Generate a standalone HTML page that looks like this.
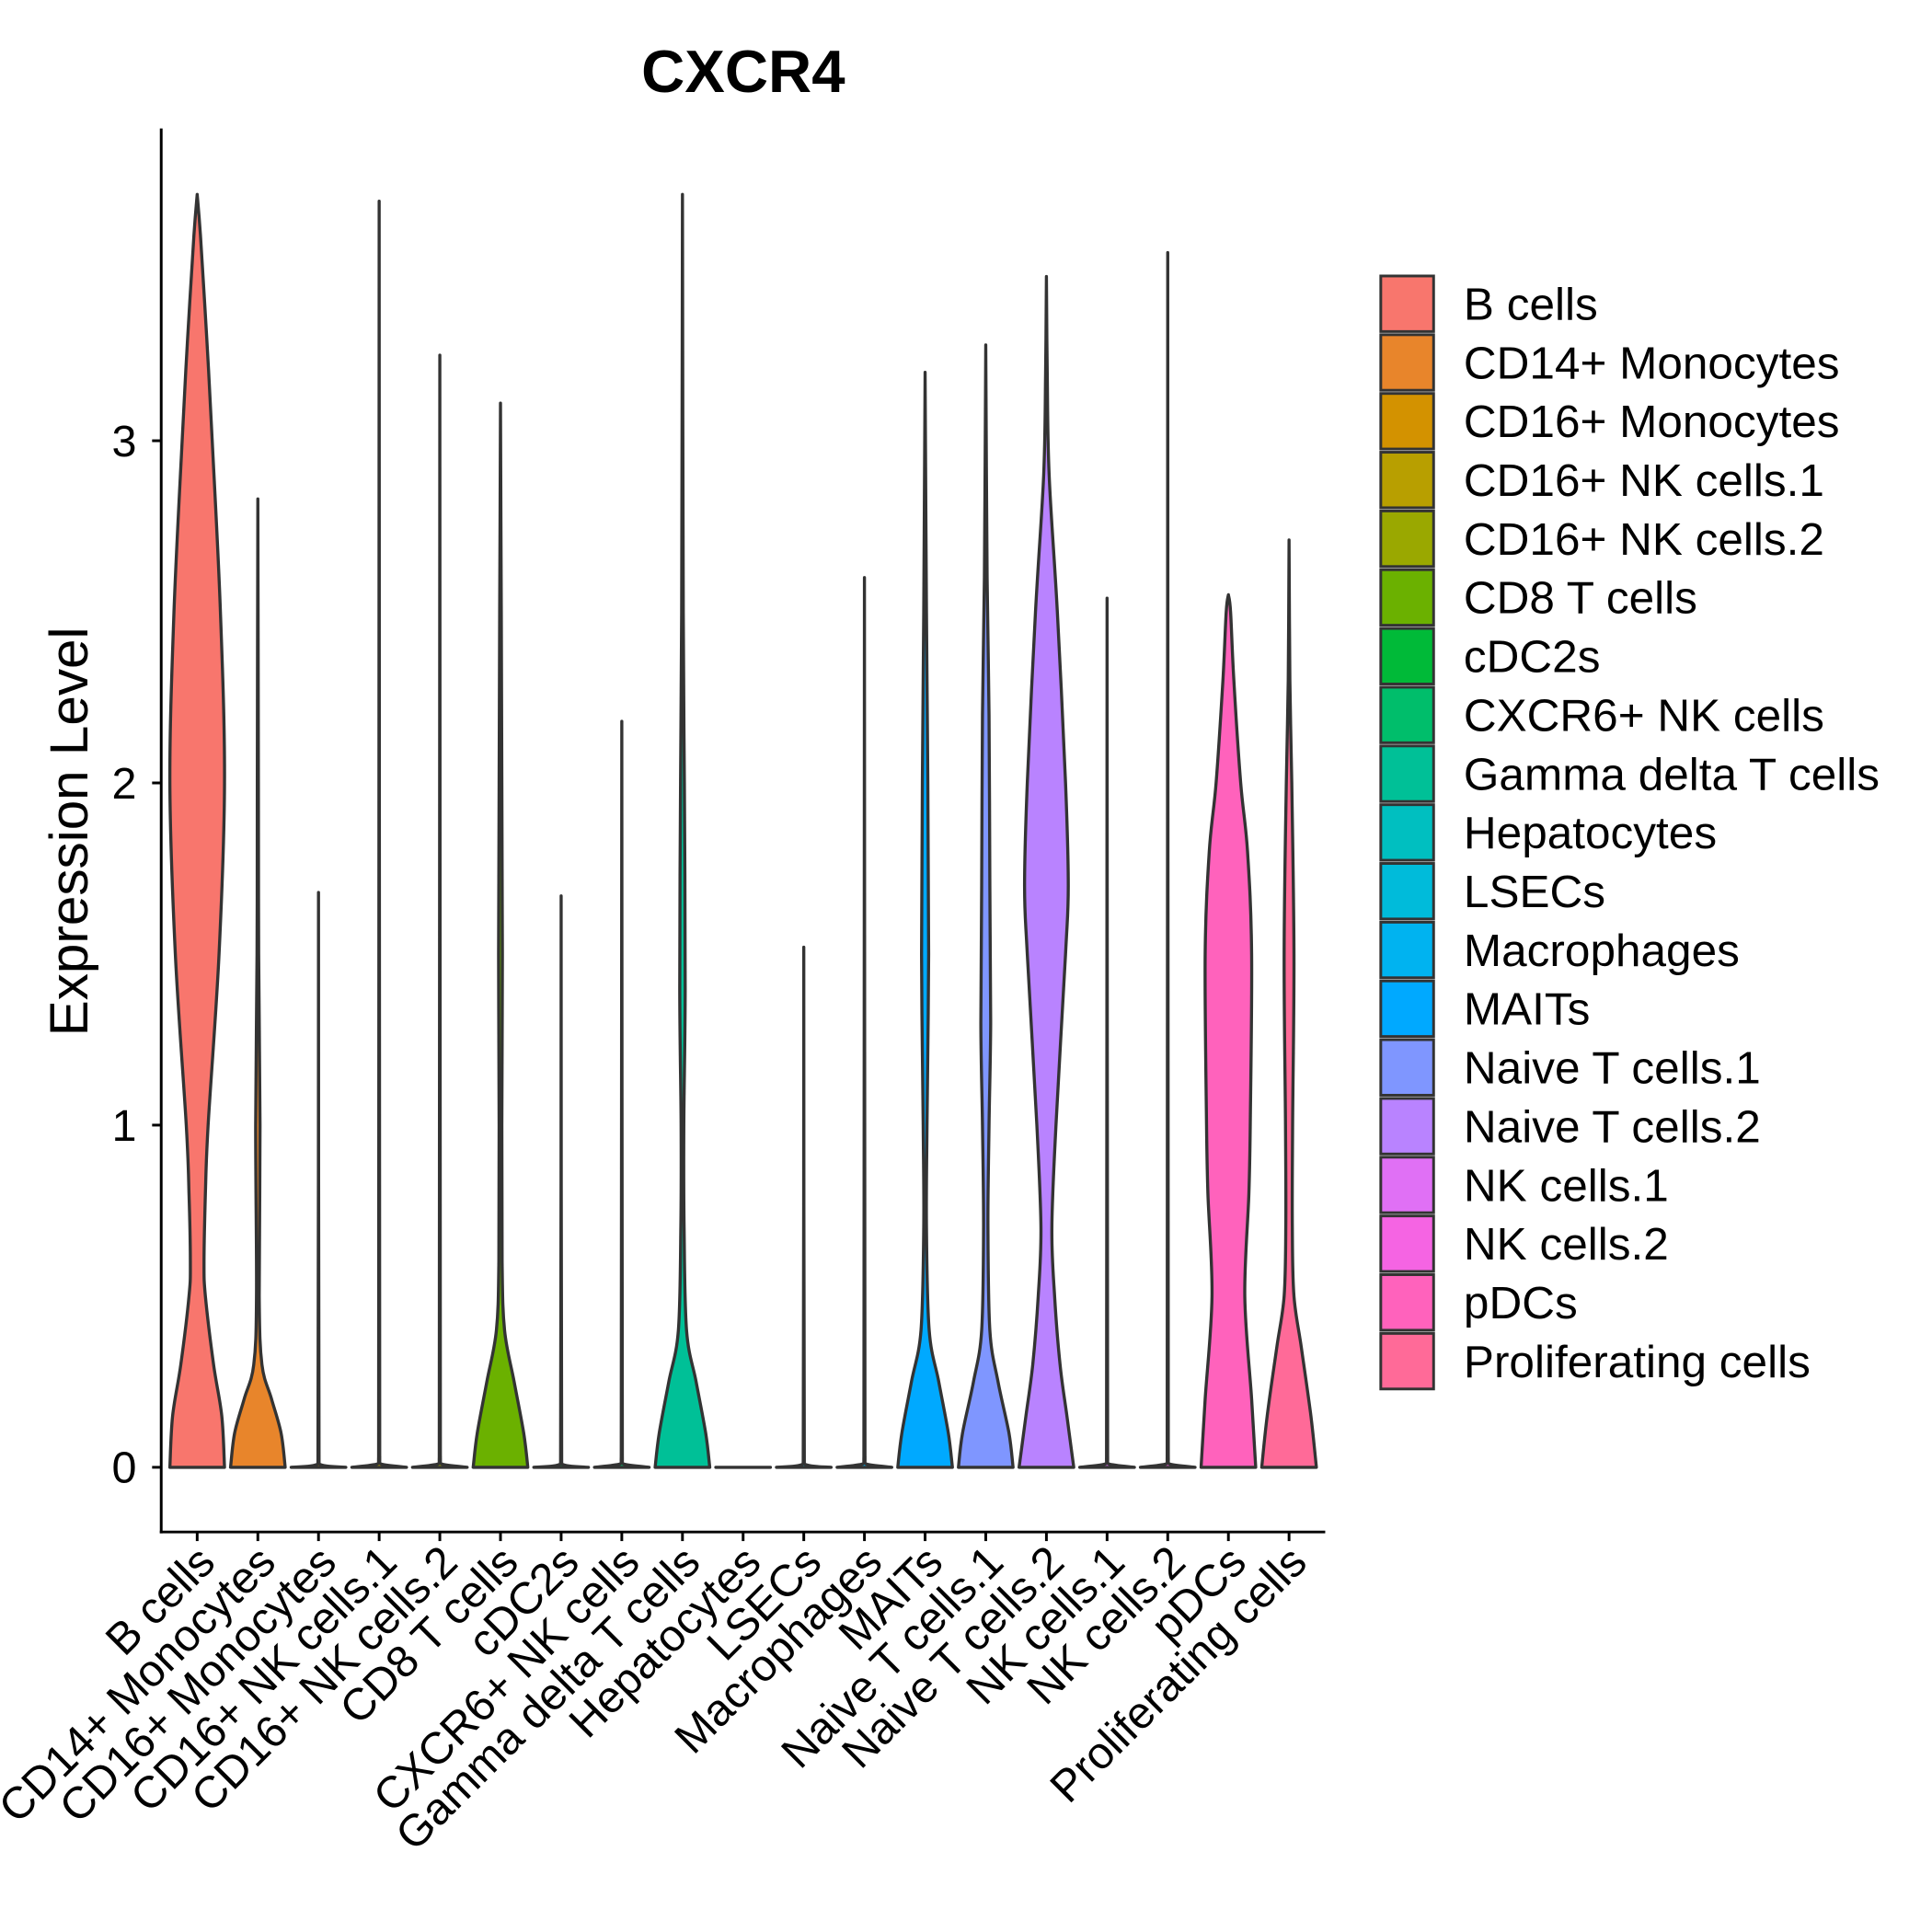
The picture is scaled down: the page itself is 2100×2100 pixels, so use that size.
<!DOCTYPE html>
<html><head><meta charset="utf-8"><style>
html,body{margin:0;padding:0;background:#fff;}
svg{display:block;font-family:"Liberation Sans",Arial,sans-serif;}
</style></head><body>
<svg id="chart" width="2100" height="2100" viewBox="0 0 2100 2100" xmlns="http://www.w3.org/2000/svg">
<rect width="2100" height="2100" fill="#fff"/>
<g transform="scale(0.99)">
<text x="816" y="101" font-size="66" font-weight="bold" text-anchor="middle">CXCR4</text>
<text transform="translate(96,913) rotate(-90)" font-size="59" text-anchor="middle">Expression Level</text>
<g id="plot"></g>
<g id="legend"></g>
</g>
</svg>
<script>
const categories = ["B cells","CD14+ Monocytes","CD16+ Monocytes","CD16+ NK cells.1","CD16+ NK cells.2","CD8 T cells","cDC2s","CXCR6+ NK cells","Gamma delta T cells","Hepatocytes","LSECs","Macrophages","MAITs","Naive T cells.1","Naive T cells.2","NK cells.1","NK cells.2","pDCs","Proliferating cells"];
const colors = ["#F8766D","#E8852B","#D39200","#B89F00","#9AA800","#6BB100","#00BA38","#00BE6B","#00C097","#00BFC0","#00BBDA","#00B3F0","#00A9FF","#7F96FF","#B983FF","#E070F5","#F564E3","#FF62BC","#FF6A98"];
const maxValues = [3.72,2.83,1.68,3.70,3.25,3.11,1.67,2.18,3.72,0,1.52,2.60,3.20,3.28,3.48,2.54,3.55,2.55,2.71];
// density profiles: [expression, relative half-width]
const profiles = [
 [[0,1],[0.15,0.9],[0.3,0.6],[0.5,0.3],[0.6,0.25],[0.8,0.3],[1.0,0.4],[1.5,0.8],[2.0,1.0],[2.5,0.85],[3.0,0.55],[3.3,0.35],[3.6,0.12]],
 [[0,1],[0.1,0.85],[0.2,0.5],[0.3,0.15],[0.5,0.05],[1.0,0.08],[1.5,0.03],[2.0,0.02]],
 [[0,1],[0.01,0.02]],
 [[0,1],[0.01,0.05],[0.03,0.02]],
 [[0,1],[0.01,0.05],[0.03,0.02]],
 [[0,1],[0.1,0.85],[0.25,0.5],[0.4,0.15],[0.6,0.06],[1.0,0.05],[1.5,0.07],[2.0,0.05],[2.5,0.03]],
 [[0,1],[0.01,0.02]],
 [[0,1],[0.01,0.05],[0.03,0.02]],
 [[0,1],[0.1,0.85],[0.25,0.5],[0.4,0.15],[0.7,0.06],[1.0,0.05],[1.4,0.1],[2.0,0.07],[2.5,0.03]],
 [[0,1]],
 [[0,1],[0.01,0.02]],
 [[0,1],[0.01,0.05],[0.03,0.02]],
 [[0,1],[0.1,0.85],[0.25,0.5],[0.4,0.15],[0.7,0.05],[1.0,0.07],[1.5,0.13],[2.0,0.1],[2.5,0.05]],
 [[0,1],[0.1,0.85],[0.25,0.45],[0.4,0.15],[0.7,0.08],[1.0,0.12],[1.3,0.18],[1.7,0.15],[2.2,0.12],[2.6,0.05]],
 [[0,1],[0.15,0.75],[0.3,0.5],[0.5,0.3],[0.7,0.2],[1.0,0.35],[1.5,0.7],[1.7,0.8],[2.0,0.7],[2.5,0.4],[2.9,0.1],[3.2,0.03]],
 [[0,1],[0.01,0.05],[0.03,0.02]],
 [[0,1],[0.01,0.05],[0.03,0.02]],
 [[0,1],[0.2,0.85],[0.5,0.6],[0.8,0.75],[1.0,0.8],[1.5,0.85],[1.8,0.7],[2.0,0.45],[2.3,0.2],[2.5,0.08]],
 [[0,1],[0.15,0.8],[0.35,0.45],[0.5,0.18],[0.7,0.12],[1.0,0.13],[1.5,0.18],[2.0,0.1],[2.3,0.03]]
];
const yTicks = [0,1,2,3];

const NS="http://www.w3.org/2000/svg";
const X0=216.5, DX=66.6, Y0=1611, UNIT=375.7, HW=30;
const xScale = i => X0 + i*DX;
const yScale = v => Y0 - v*UNIT;
const plot=document.getElementById('plot');
function mk(tag, attrs, parent){const e=document.createElementNS(NS,tag);for(const k in attrs)e.setAttribute(k,attrs[k]);parent.appendChild(e);return e;}
function clamp(v,a,b){const lo=Math.min(a,b),hi=Math.max(a,b);return Math.max(lo,Math.min(hi,v));}
function smooth(p,cx,side){
  let d='';
  for(let i=0;i<p.length-1;i++){
    const p0=p[Math.max(0,i-1)],p1=p[i],p2=p[i+1],p3=p[Math.min(p.length-1,i+2)];
    let c1=[p1[0]+(p2[0]-p0[0])/6,p1[1]+(p2[1]-p0[1])/6];
    let c2=[p2[0]-(p3[0]-p1[0])/6,p2[1]-(p3[1]-p1[1])/6];
    c1[1]=clamp(c1[1],p1[1],p2[1]); c2[1]=clamp(c2[1],p1[1],p2[1]);
    if(side>0){c1[0]=Math.max(cx,c1[0]);c2[0]=Math.max(cx,c2[0]);}else{c1[0]=Math.min(cx,c1[0]);c2[0]=Math.min(cx,c2[0]);}
    d+=`C${c1[0].toFixed(1)},${c1[1].toFixed(1)} ${c2[0].toFixed(1)},${c2[1].toFixed(1)} ${p2[0].toFixed(1)},${p2[1].toFixed(1)}`;
  }
  return d;
}

categories.forEach((c,i)=>{
  const cx=xScale(i);
  const pts=profiles[i].slice();
  if(maxValues[i]>0) pts.push([maxValues[i],0]);
  let right=pts.map(p=>[cx+p[1]*HW, yScale(p[0])]);
  let left=pts.slice().reverse().map(p=>[cx-p[1]*HW, yScale(p[0])]);
  let d='M'+right[0][0].toFixed(1)+','+right[0][1].toFixed(1)+smooth(right,cx,1)+'L'+left[0][0].toFixed(1)+','+left[0][1].toFixed(1)+smooth(left,cx,-1)+'Z';
  const path=mk('path',{d:d,fill:colors[i],stroke:'#333','stroke-width':3.4,'stroke-linejoin':'round'},plot);
  
  
  const tk=mk('line',{x1:cx,x2:cx,y1:1682,y2:1692,stroke:'#000','stroke-width':3},plot);
  
  
  const t=mk('text',{transform:`translate(${cx+22},1718) rotate(-45)`,'font-size':49,'text-anchor':'end'},plot);
  t.textContent=c;
  
  
});
yTicks.forEach(v=>{
  const y=yScale(v);
  const tk=mk('line',{x1:167,x2:177,y1:y,y2:y,stroke:'#000','stroke-width':3},plot);
  
  
  const t=mk('text',{x:150,y:y+17,'font-size':49,'text-anchor':'end'},plot);
  t.textContent=v;
  
  
});
const ya=mk('line',{x1:177,x2:177,y1:141,y2:1683.5,stroke:'#000','stroke-width':3},plot);


const xa=mk('line',{x1:175.5,x2:1455,y1:1682,y2:1682,stroke:'#000','stroke-width':3},plot);



const lg=document.getElementById('legend');
categories.forEach((c,i)=>{
  const y=303+i*64.5;
  const r=mk('rect',{x:1516,y:y,width:58,height:61,fill:colors[i],stroke:'#333','stroke-width':3},lg);
  
  
  const t=mk('text',{x:1607,y:y+48,'font-size':50},lg);
  t.textContent=c;
  
  
});
</script>
</body></html>
